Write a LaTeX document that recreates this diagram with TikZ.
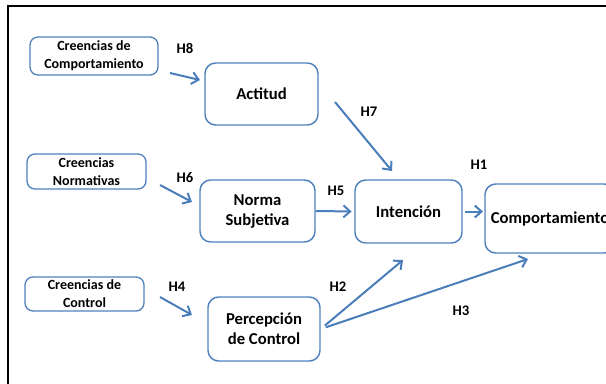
\documentclass[tikz,border=0pt]{standalone}
\usepackage{fontspec}
\setmainfont{Carlito}
\usetikzlibrary{arrows.meta}
\definecolor{boxblue}{RGB}{79,129,189}
\definecolor{arrblue}{RGB}{74,126,187}
\tikzset{
  bigbox/.style={draw=boxblue,line width=1.1pt,rounded corners=8pt,align=center,inner sep=0pt,
    font=\bfseries\fontsize{12.5}{15}\selectfont},
  smallbox/.style={draw=boxblue,line width=1pt,rounded corners=6pt,align=center,inner sep=0pt,
    font=\bfseries\fontsize{10.5}{13.5}\selectfont},
  link/.style={draw=arrblue,line width=1.5pt,-{Straight Barb[length=5pt,width=9pt]}},
  hlabel/.style={font=\bfseries\fontsize{11}{13}\selectfont}
}

\begin{document}
\begin{tikzpicture}[x=0.75pt,y=0.75pt,yscale=-1,xscale=1]
  \useasboundingbox (0,0) rectangle (606,383);
  \clip (0,0) rectangle (606,383);
  % frame
  \draw[line width=2.2pt] (8,390) -- (8,6) -- (615,6);

  % beliefs
  \node[smallbox,minimum width=96pt,minimum height=28.5pt] (cbComp) at (94,56) {Creencias de\\Comportamiento};
  \node[smallbox,minimum width=89.25pt,minimum height=26.25pt] (cbNorm) at (86.5,171.5) {Creencias\\Normativas};
  \node[smallbox,minimum width=89.25pt,minimum height=25.5pt] (cbCtrl) at (84.5,294) {Creencias de\\Control};

  % constructs
  \node[bigbox,minimum width=84.75pt,minimum height=46.5pt] (actitud) at (261.5,94) {Actitud};
  \node[bigbox,minimum width=86.25pt,minimum height=46.5pt] (norma) at (257.5,211) {Norma\\Subjetiva};
  \node[bigbox,minimum width=84pt,minimum height=48pt] (percep) at (264,329) {Percepción\\de Control};
  \node[bigbox,minimum width=80.25pt,minimum height=47.25pt] (intencion) at (408.5,211.5) {Intención};
  \node[bigbox,minimum width=97.5pt,minimum height=51.75pt] (comport) at (550,218.5) {Comportamiento};

  % free ends
  \coordinate (h8a) at (170,73);  \coordinate (h8b) at (200,80);
  \coordinate (h6a) at (160,185); \coordinate (h6b) at (192,202);
  \coordinate (h4a) at (160,297); \coordinate (h4b) at (192,315);
  \coordinate (h7a) at (335,102); \coordinate (h7b) at (392,171);
  \coordinate (h2b) at (403,260);
  \coordinate (h3b) at (528,259);

  % hypotheses
  \draw[link] (h8a) -- (h8b);
  \draw[link] (h6a) -- (h6b);
  \draw[link] (h4a) -- (h4b);
  \draw[link] (h7a) -- (h7b);
  \draw[link,shorten >=2pt] (norma.east) -- (intencion.west);
  \draw[link,shorten <=2pt,shorten >=1pt] (intencion.east) -- (comport.west |- intencion.east);
  \draw[link,shorten <=4pt] (percep.east) -- (h2b);
  \draw[link,shorten <=4pt] (percep.east) -- (h3b);

  \node[hlabel] (lh8) at (185,48) {H8};
  \node[hlabel] (lh7) at (369,112) {H7};
  \node[hlabel] (lh6) at (185,178) {H6};
  \node[hlabel] (lh5) at (336,191) {H5};
  \node[hlabel] (lh1) at (479,165) {H1};
  \node[hlabel] (lh4) at (177,287) {H4};
  \node[hlabel] (lh2) at (338,287) {H2};
  \node[hlabel] (lh3) at (461,311) {H3};
\end{tikzpicture}
\end{document}
